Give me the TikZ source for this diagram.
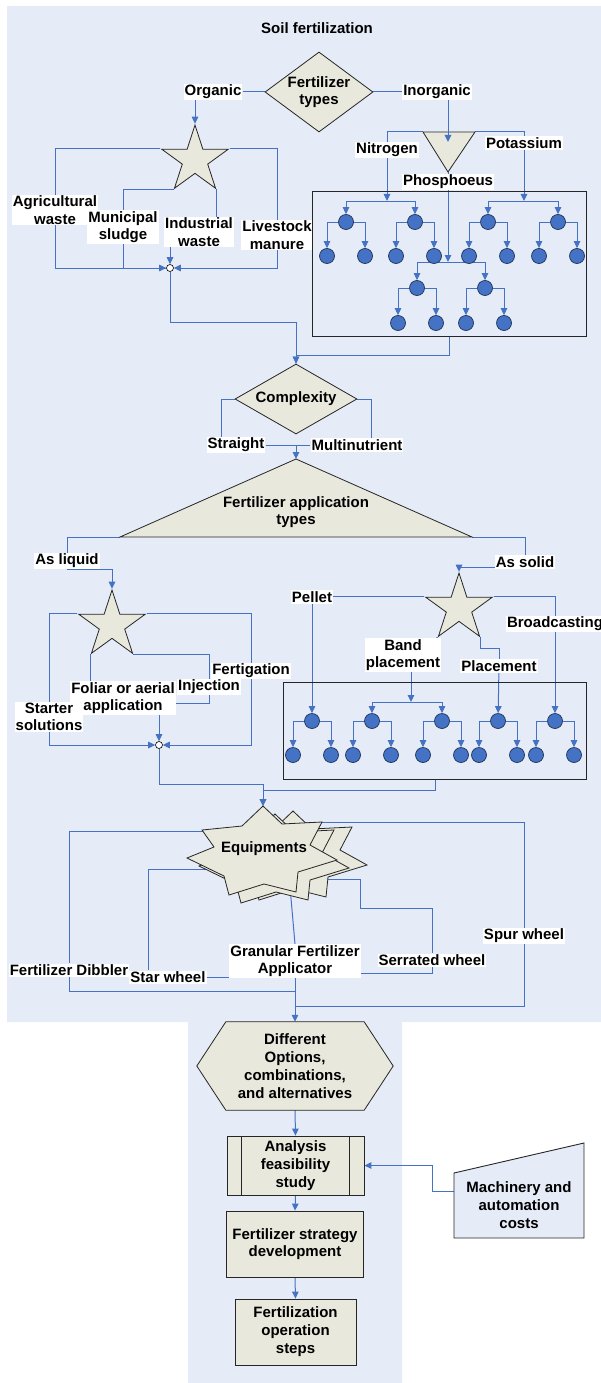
\documentclass[tikz,border=0pt]{standalone}
\usepackage{fontspec}
\setmainfont{Liberation Sans}
\usetikzlibrary{shapes.geometric,arrows.meta,calc}

\definecolor{bgblue}{RGB}{230,236,247}
\definecolor{lnblue}{RGB}{70,114,196}
\definecolor{shfill}{RGB}{232,232,221}
\definecolor{dotblue}{RGB}{68,114,196}

\pgfdeclarelayer{bg}
\pgfdeclarelayer{lines}
\pgfdeclarelayer{shapes}
\pgfsetlayers{bg,lines,shapes,main}

% a parent dot with its two child dots
\newcommand{\ftree}[4]{%
  \node[dot] (#1) at (#2,#3) {};
  \node[dot] (#1a) at (#2-19,#4) {};
  \node[dot] (#1b) at (#2+19,#4) {};
  \begin{pgfonlayer}{lines}
    \draw[arr] (#1) -| (#1a);
    \draw[arr] (#1) -| (#1b);
  \end{pgfonlayer}}

% one layer of the stacked equipment burst
\newcommand{\burst}[2]{%
  \begin{scope}[shift={(#1,#2)}]
    \filldraw[shp] (263,806) -- (282,824) -- (322,822) -- (310,845) -- (337,860)
      -- (298,872) -- (296,892) -- (264,884) -- (229,895) -- (224,876)
      -- (187,858) -- (214,847) -- (202,830) -- (242,826) -- cycle;
  \end{scope}}

\begin{document}
\begin{tikzpicture}[x=1pt,y=-1pt,
  every node/.style={font=\bfseries\fontsize{15}{17.5}\selectfont},
  conn/.style={draw=lnblue, line width=1pt},
  arr/.style={conn, -{Triangle[length=7pt,width=6.5pt]}},
  lbl/.style={fill=white, inner xsep=1pt, inner ysep=1pt, align=center},
  txt/.style={align=center, inner sep=0pt},
  shp/.style={draw=black!85, fill=shfill, line width=0.8pt},
  dot/.style={circle, fill=dotblue, draw=black!55!dotblue, line width=0.7pt, minimum size=15pt, inner sep=0pt},
  jn/.style={circle, fill=white, draw=black, minimum size=7pt, inner sep=0pt, line width=0.6pt},
  frame/.style={draw=black!85, line width=1pt, inner sep=0pt},
  pstar/.style={shp, star, star points=5, star point ratio=2.618, minimum size=70pt, inner sep=0pt},
  dmd/.style={shp, diamond, inner sep=0pt},
  stepbox/.style={shp, rectangle, inner sep=0pt, align=center}]

\useasboundingbox (0,0) rectangle (601,1383);

\begin{pgfonlayer}{bg}
  \fill[bgblue] (7,6) -- (601,6) -- (601,1022) -- (402,1022) -- (402,1383)
    -- (188,1383) -- (188,1022) -- (7,1022) -- cycle;
\end{pgfonlayer}

% ---------- fertilizer types ----------
\node (title) at (317,28) {Soil fertilization};
\node[dmd, minimum width=108pt, minimum height=80pt,
      label={[align=center]center:Fertilizer\\types}] (ft) at (319,92) {};
\node[lbl] (org) at (213,92) {Organic};
\node[lbl] (inorg) at (437,92) {Inorganic};

% organic branch
\node[pstar] (s1) at (195,160) {};
\node[lbl] (agr) at (55,210) {Agricultural\\waste};
\node[lbl] (muni) at (123,227) {Municipal\\sludge};
\node[lbl] (ind) at (199,232) {Industrial\\waste};
\node[lbl] (live) at (277,235) {Livestock\\manure};
\node[jn] (jn1) at (170,268) {};

% inorganic branch
\coordinate (ti1) at (423,132);
\coordinate (ti2) at (475,132);
\coordinate (ti3) at (448,172);
\node[frame, minimum width=274pt, minimum height=144pt] (box1) at (449,264) {};
\node[lbl] (nit) at (387,150) {Nitrogen};
\node[lbl] (pot) at (524,143) {Potassium};
\node[lbl] (pho) at (448,182) {Phosphoeus};
\coordinate (sp1) at (387,201);
\coordinate (sp2) at (524,201);
\coordinate (sp3) at (448,262);
\ftree{pa}{346}{222}{256}
\ftree{pb}{415}{222}{256}
\ftree{pc}{488}{222}{256}
\ftree{pd}{558}{222}{256}
\ftree{qa}{417}{288}{323}
\ftree{qb}{485}{288}{323}

% ---------- complexity ----------
\node[dmd, minimum width=122pt, minimum height=70pt, label=center:Complexity] (cx) at (296,399) {};
\node[lbl] (str) at (236,445) {Straight};
\node[lbl] (mul) at (357,445) {Multinutrient};

% ---------- application types ----------
\coordinate (fa1) at (296,459);
\coordinate (fa2) at (120,537);
\coordinate (fa3) at (472,537);
\node[txt] (fat) at (296,512) {Fertilizer application\\types};
\node[lbl] (liq) at (67,561) {As liquid};
\node[lbl] (sol) at (525,562) {As solid};

% liquid branch
\node[pstar] (s2) at (112,625) {};
\node[lbl] (fert) at (251,671) {Fertigation};
\node[lbl] (inj) at (209,687) {Injection};
\node[lbl] (fol) at (123,698) {Foliar or aerial\\application};
\node[lbl] (sts) at (49,717) {Starter\\solutions};
\node[jn] (jn2) at (159,745) {};

% solid branch
\node[pstar] (s3) at (459,608) {};
\node[lbl] (pel) at (312,597) {Pellet};
\node[lbl] (brd) at (555,624) {Broadcasting};
\node[lbl] (band) at (403,655) {Band\\placement};
\node[lbl] (plc) at (499,666) {Placement};
\node[frame, minimum width=303pt, minimum height=97pt] (box2) at (435,730.5) {};
\coordinate (sp4) at (411,702);
\ftree{ra}{312}{721}{755}
\ftree{rb}{372}{721}{755}
\ftree{rc}{442}{721}{755}
\ftree{rd}{498}{721}{755}
\ftree{re}{555}{721}{755}

% ---------- equipments ----------
\node[txt] (eq) at (264,849) {Equipments};
\node[lbl] (dib) at (69,970) {Fertilizer Dibbler};
\node[lbl] (gfa) at (295,961) {Granular Fertilizer\\Applicator};
\node[lbl] (stw) at (168,977) {Star wheel};
\node[lbl] (ser) at (432,960) {Serrated wheel};
\node[lbl] (spur) at (524,936) {Spur wheel};
\coordinate (mrg1) at (295,991);
\coordinate (mrg2) at (295,1006);

% ---------- planning steps ----------
\node[txt, minimum width=196pt, minimum height=88pt, font=\bfseries\fontsize{15}{18}\selectfont] (opt) at (295,1066)
  {Different\\Options,\\combinations,\\and alternatives};
\node[stepbox, minimum width=137pt, minimum height=59pt, font=\bfseries\fontsize{15}{18}\selectfont] (ana) at (295.5,1165.5)
  {Analysis\\feasibility\\study};
\draw[line width=0.8pt, draw=black!85] ($(ana.north west)+(15,0)$) -- ($(ana.south west)+(15,0)$);
\draw[line width=0.8pt, draw=black!85] ($(ana.north east)+(-15,0)$) -- ($(ana.south east)+(-15,0)$);
\node[stepbox, minimum width=137pt, minimum height=66pt] (strat) at (295,1244)
  {Fertilizer strategy\\development};
\node[stepbox, minimum width=121pt, minimum height=66pt, font=\bfseries\fontsize{15}{18}\selectfont] (fop) at (295.5,1332)
  {Fertilization\\operation\\steps};
\node[txt, font=\bfseries\fontsize{15}{18}\selectfont] (mach) at (519,1205) {Machinery and\\automation\\costs};

% arrow from Inorganic ends inside the triangle
\draw[arr] (inorg.south -| ti3) -- ($(ti3)+(0,-30)$);

% ---------- outlined shapes ----------
\begin{pgfonlayer}{shapes}
  \filldraw[shp] (ti1) -- (ti2) -- (ti3) -- cycle;
  \filldraw[shp] (fa1) -- (fa2) -- (fa3) -- cycle;
  \burst{30}{5}
  \burst{12}{8}
  \burst{0}{0}
  \filldraw[shp] (opt.west) -- ($(opt.north west)+(29,0)$) -- ($(opt.north east)+(-29,0)$)
    -- (opt.east) -- ($(opt.south east)+(-29,0)$) -- ($(opt.south west)+(29,0)$) -- cycle;
  \filldraw[draw=black!85, fill=bgblue, line width=0.9pt]
    ($(mach)+(-65,33)$) -- ($(mach)+(65,33)$) -- ($(mach)+(65,-62)$) -- ($(mach)+(-65,-32)$) -- cycle;
\end{pgfonlayer}

% ---------- connectors ----------
\begin{pgfonlayer}{lines}
  \draw[conn] (ft.west) -- (org);
  \draw[conn] (ft.east) -- (inorg);
  \draw[arr] (org.south -| s1.outer point 1) -- (s1.outer point 1);

  \draw[arr] (s1.outer point 2) -| (agr) |- (jn1);
  \draw[conn] (s1.outer point 3) -| (muni) |- (jn1);
  \draw[arr] (s1.outer point 5) -| (live) |- (jn1);
  \draw[conn] (s1.outer point 4) -- (s1.outer point 4 |- ind.north);
  \draw[arr] (ind.south -| jn1) -- (jn1);

  \draw[conn] (ti1) -| (nit);
  \draw[arr] (nit) -- (sp1);
  \draw[conn] (ti2) -| (pot);
  \draw[arr] (pot) -- (sp2);
  \draw[conn] (ti3) -- (pho);
  \draw[arr] (pho) -- (sp3);
  \draw[arr] (sp1) -| (pa);
  \draw[arr] (sp1) -| (pb);
  \draw[arr] (sp2) -| (pc);
  \draw[arr] (sp2) -| (pd);
  \draw[arr] (sp3) -| (qa);
  \draw[arr] (sp3) -| (qb);

  \draw[arr] (jn1) -- ++(0,54) -| (cx.north);
  \draw[arr] (box1.south) -- ++(0,19) -| (cx.north);

  \draw[conn] (cx.west) -| ($(str.north)+(-15,0)$);
  \draw[conn] (cx.east) -| ($(mul.north)+(14,0)$);
  \draw[conn] (str) -- (mul);
  \draw[arr] (str.east -| fa1) -- (fa1);

  \draw[conn] (fa2) -| (liq);
  \draw[arr] (liq.south) -| (s2.outer point 1);
  \draw[conn] (fa3) -| (sol);
  \draw[arr] ($(sol.west)+(0,5)$) -| (s3.outer point 1);

  \draw[arr] (s2.outer point 2) -| (sts) |- (jn2);
  \draw[arr] (s2.outer point 5) -| (fert) |- (jn2);
  \draw[conn] (s2.outer point 3) -- (s2.outer point 3 |- fol.north);
  \draw[conn] (s2.outer point 4) -| (inj);
  \draw[conn] (inj) |- ($(fol.east)+(0,5)$);
  \draw[arr] (fol.south -| jn2) -- (jn2);

  \draw[conn] (s3.outer point 2) -- (s3.outer point 2 -| pel.east);
  \draw[arr] (pel) -- (ra);
  \draw[conn] (s3.outer point 5) -| (brd);
  \draw[arr] (brd) -- (re);
  \draw[conn] (s3.outer point 3) -- (band);
  \draw[arr] (band.south -| sp4) -- (sp4);
  \draw[arr] (sp4) -| (rb);
  \draw[arr] (sp4) -| (rc);
  \draw[conn] (s3.outer point 4) -- ++(0,11) -| (plc);
  \draw[arr] (plc) -- (rd);

  \draw[arr] (jn2) -- ++(0,39) -| ($(eq)+(-1,-43)$);
  \draw[arr] (box2.south) -- ++(0,11) -| ($(eq)+(-1,-43)$);

  \draw[conn] ($(eq)+(0,-18)$) -| (dib) |- (mrg1);
  \draw[conn] ($(eq)+(0,20)$) -| ($(stw.north)+(-20,0)$);
  \draw[conn] (stw.east) -- (stw.east -| gfa.west);
  \draw[conn] ($(eq)+(26,38)$) -- (gfa.north);
  \draw[conn] ($(eq)+(30,30)$) -| (360,908) -| (ser) |- ($(gfa.east)+(0,12)$);
  \draw[conn] ($(eq)+(30,-27)$) -| (spur) |- (mrg2);
  \draw[arr] (gfa) -- (opt.north);

  \draw[arr] (opt.south) -- (ana.north);
  \draw[arr] (ana.south) -- (strat.north);
  \draw[arr] (strat.south) -- (fop.north);
  \draw[arr] ($(mach)+(-65,-14)$) -| ($(ana.east)+(68,0)$) -- (ana.east);
\end{pgfonlayer}
\end{tikzpicture}
\end{document}
